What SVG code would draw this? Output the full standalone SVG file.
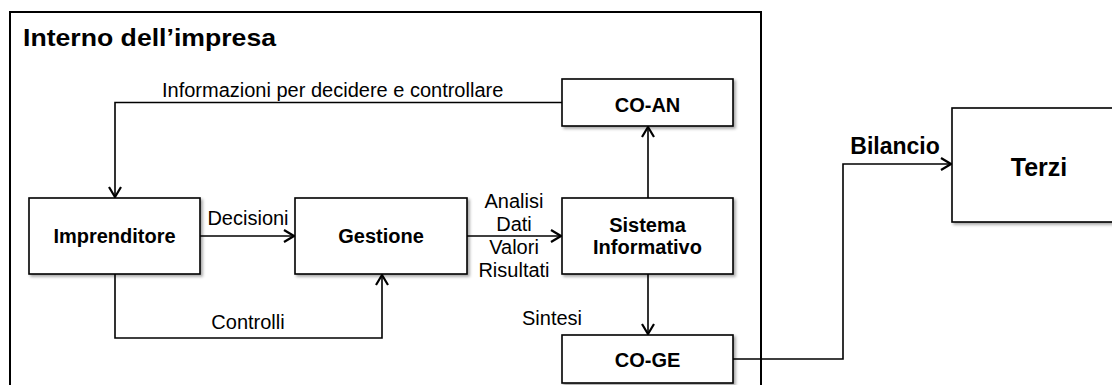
<svg xmlns="http://www.w3.org/2000/svg" width="1112" height="385" viewBox="0 0 1112 385">
<style>
text{font-family:"Liberation Sans",Arial,sans-serif;fill:#000}
.lbl{font-size:20px}
.b{font-size:20px;font-weight:bold;text-anchor:middle}
.box{fill:#fff;stroke:#000;stroke-width:1.6;filter:url(#sh)}
.c{fill:none;stroke:#000;stroke-width:1.6}
.m{text-anchor:middle}
</style>
<defs>
<filter id="sh" x="-10%" y="-10%" width="130%" height="140%">
<feDropShadow dx="2" dy="2" stdDeviation="1.5" flood-color="#000" flood-opacity="0.35"/>
</filter>
<marker id="arr" viewBox="0 0 12 14" refX="11" refY="7" markerWidth="12" markerHeight="14" markerUnits="userSpaceOnUse" orient="auto">
<path d="M1,1 L11,7 L1,13" fill="none" stroke="#000" stroke-width="2.2"/>
</marker>
</defs>
<rect width="1112" height="385" fill="#fff"/>
<g id="container">
<rect x="10" y="12" width="751" height="390" fill="none" stroke="#000" stroke-width="2"/>
<text x="23" y="46" font-size="24" font-weight="bold" textLength="253" lengthAdjust="spacingAndGlyphs">Interno dell’impresa</text>
</g>
<g id="connectors">
<polyline class="c" points="562,102.5 115,102.5 115,197" marker-end="url(#arr)"/>
<line class="c" x1="200" y1="236" x2="294" y2="236" marker-end="url(#arr)"/>
<polyline class="c" points="115,274 115,338 382,338 382,275" marker-end="url(#arr)"/>
<line class="c" x1="467" y1="236" x2="561" y2="236" marker-end="url(#arr)"/>
<line class="c" x1="648" y1="198" x2="648" y2="127" marker-end="url(#arr)"/>
<line class="c" x1="648" y1="274" x2="648" y2="334" marker-end="url(#arr)"/>
<polyline class="c" points="733,359 843,359 843,164 951,164" marker-end="url(#arr)"/>
<text class="lbl" x="162" y="97">Informazioni per decidere e controllare</text>
<text class="lbl m" x="248" y="225">Decisioni</text>
<text class="lbl m" x="248" y="329">Controlli</text>
<text class="lbl m" x="514" y="208">Analisi</text>
<text class="lbl m" x="514" y="231">Dati</text>
<text class="lbl m" x="514" y="254">Valori</text>
<text class="lbl m" x="514" y="277">Risultati</text>
<text class="lbl m" x="552" y="325">Sintesi</text>
<text x="895" y="154" font-size="23" font-weight="bold" text-anchor="middle">Bilancio</text>
</g>
<g id="imprenditore">
<rect class="box" x="29" y="198" width="171" height="76"/>
<text class="b" x="114.5" y="243">Imprenditore</text>
</g>
<g id="gestione">
<rect class="box" x="295" y="198" width="172" height="76"/>
<text class="b" x="381" y="243">Gestione</text>
</g>
<g id="sistema">
<rect class="box" x="562" y="198" width="171" height="76"/>
<text class="b" x="647.5" y="231.5">Sistema</text>
<text class="b" x="647.5" y="253.5">Informativo</text>
</g>
<g id="coan">
<rect class="box" x="562" y="79" width="171" height="47"/>
<text class="b" x="647.5" y="111.5">CO-AN</text>
</g>
<g id="coge">
<rect class="box" x="562" y="335" width="171" height="48"/>
<text class="b" x="647.5" y="367">CO-GE</text>
</g>
<g id="terzi">
<rect class="box" x="952" y="108" width="174" height="114"/>
<text x="1039" y="175.5" font-size="25" font-weight="bold" text-anchor="middle">Terzi</text>
</g>
</svg>
